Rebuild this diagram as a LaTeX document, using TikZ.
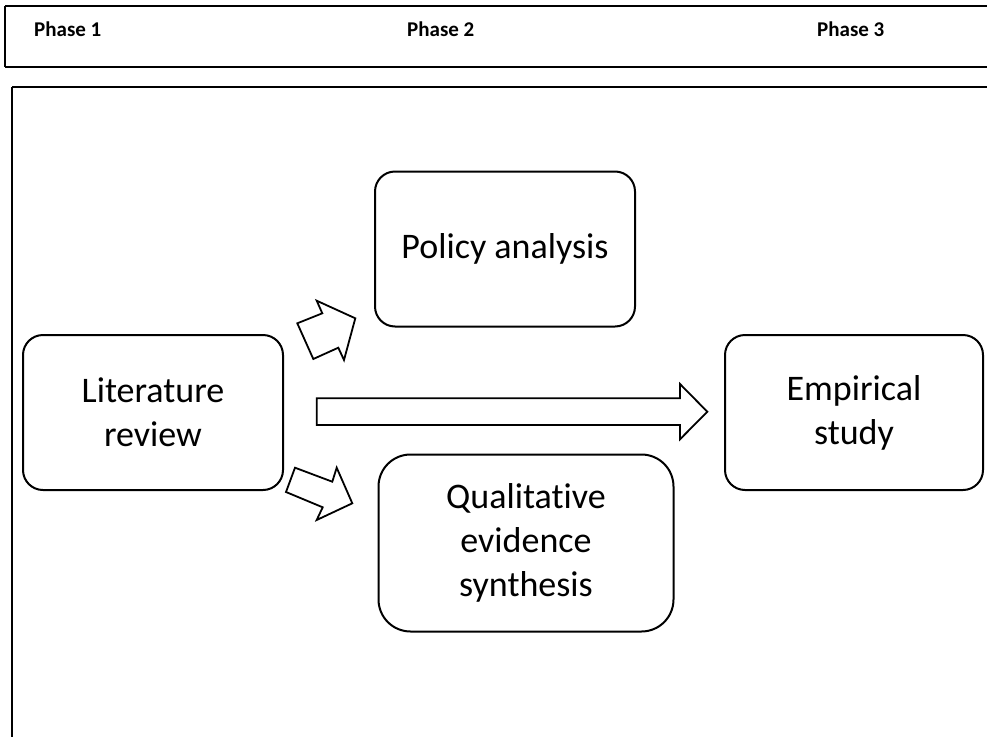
\documentclass[tikz,border=0pt]{standalone}
\usepackage{fontspec}
\setmainfont{Carlito}[RawFeature=-liga]
\begin{document}
\begin{tikzpicture}[x=1pt,y=-1pt,
  frame/.style={draw=black,line width=2pt},
  stagebox/.style={draw=black,line width=2pt,rounded corners=20pt,align=center,
    font=\fontsize{36}{44}\selectfont,inner sep=0pt},
  phaselabel/.style={anchor=base west,inner sep=0pt,font=\fontsize{21}{25}\bfseries\selectfont},
  blockarrow/.style={draw=black,line width=1.8pt,fill=white,line join=miter}]
\useasboundingbox (0,0) rectangle (987,736);
\fill[white] (0,0) rectangle (987,736);
% header frame
\draw[frame] (5,6) -- (990,6) (5,67) -- (990,67) (5,6) -- (5,67);
\node[phaselabel] (p1) at (34,36) {Phase 1};
\node[phaselabel] (p2) at (407,36) {Phase 2};
\node[phaselabel] (p3) at (817,36) {Phase 3};
% main frame
\draw[frame] (12,87) -- (990,87) (12,87) -- (12,740);
% boxes
\node[stagebox,minimum width=260pt,minimum height=155pt] (lit) at (153,412.5) {Literature\\review};
\node[stagebox,minimum width=260pt,minimum height=155pt] (pol) at (505,249) {Policy analysis};
\node[stagebox,rounded corners=32pt,minimum width=295pt,minimum height=177pt] (qual) at (526,543) {Qualitative\\evidence\\synthesis};
\node[stagebox,minimum width=258pt,minimum height=155pt] (emp) at (854,412.5) {Empirical\\study};
% block arrows
\draw[blockarrow] (297.3,323.3) -- (313.3,359) -- (338.3,347.7) -- (344,360) -- (355.3,318.3) -- (316.7,300.7) -- (322.3,313.3) -- cycle;
\draw[blockarrow] (295,467.7) -- (286,492) -- (322.7,507.3) -- (316.7,520) -- (352.3,503.3) -- (336.7,467.7) -- (332.3,481.7) -- cycle;
\draw[blockarrow] (316.7,398.3) -- (680,398.3) -- (680,384) -- (707.3,411.7) -- (680,439.3) -- (680,425) -- (316.7,425) -- cycle;
\end{tikzpicture}
\end{document}
